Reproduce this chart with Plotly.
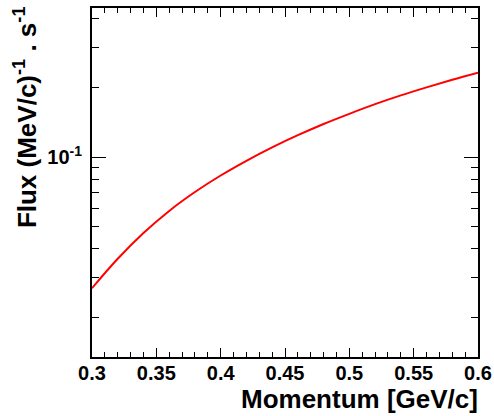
import plotly.graph_objects as go

momentum = [0.30, 0.32, 0.34, 0.36, 0.38, 0.40, 0.42, 0.44, 0.46, 0.48,
            0.50, 0.52, 0.54, 0.56, 0.58, 0.60]
flux = [0.02692, 0.03614, 0.04677, 0.05834, 0.07047, 0.08318, 0.09638, 0.1102,
        0.1245, 0.1393, 0.1542, 0.1698, 0.1854, 0.2009, 0.2168, 0.2328]

x_ticks = [0.30, 0.35, 0.40, 0.45, 0.50, 0.55, 0.60]
x_ticktext = ["0.3", "0.35", "0.4", "0.45", "0.5", "0.55", "0.6"]
y_ticks = [0.1]
y_ticktext = ["10<sup>-1</sup>"]
y_minor = [0.02, 0.03, 0.04, 0.05, 0.06, 0.07, 0.08, 0.09, 0.2, 0.3, 0.4]

FONT = "Liberation Sans, Arial, Helvetica, sans-serif"

fig = go.Figure()
fig.add_trace(go.Scatter(x=momentum, y=flux, mode="lines",
                         line=dict(color="#ff0000", width=2, shape="spline"),
                         showlegend=False, hoverinfo="skip"))

fig.update_layout(
    width=494, height=416,
    margin=dict(l=92, r=16, t=8, b=59, autoexpand=False),
    paper_bgcolor="white", plot_bgcolor="white",
    font=dict(family=FONT, color="black", size=20, weight="bold"),
)
fig.update_xaxes(
    range=[0.3, 0.6], showgrid=False, zeroline=False, automargin=False,
    showline=True, linecolor="black", linewidth=2, mirror="ticks",
    ticks="inside", ticklen=9, tickwidth=1, tickcolor="black",
    tickvals=x_ticks, ticktext=x_ticktext, ticklabelstandoff=-3,
    tickfont=dict(family=FONT, size=20, weight="bold"),
    minor=dict(dtick=0.01, tick0=0.3, ticks="inside", ticklen=5, tickwidth=1, tickcolor="black", showgrid=False),
)
fig.update_yaxes(
    type="log", range=[-1.869, -0.352], showgrid=False, zeroline=False, automargin=False,
    showline=True, linecolor="black", linewidth=2, mirror="ticks",
    ticks="inside", ticklen=14, tickwidth=1, tickcolor="black",
    tickvals=y_ticks, ticktext=y_ticktext, ticklabelstandoff=4,
    tickfont=dict(family=FONT, size=20, weight="bold"),
    minor=dict(tickmode="array", tickvals=y_minor, ticks="inside", ticklen=7, tickwidth=1, tickcolor="black", showgrid=False),
)

fig.add_annotation(text="Momentum [GeV/c]", xref="paper", yref="paper",
                   x=1.005, y=-0.072, xanchor="right", yanchor="top", showarrow=False,
                   font=dict(family=FONT, size=26, weight="bold"))
fig.add_annotation(text="Flux (MeV/c)<sup>-1</sup> . s<sup>-1</sup>", xref="paper", yref="paper",
                   x=-0.172, y=1.01, xanchor="center", yanchor="top", textangle=-90, showarrow=False,
                   font=dict(family=FONT, size=26, weight="bold"))

fig.write_html("out.html")
